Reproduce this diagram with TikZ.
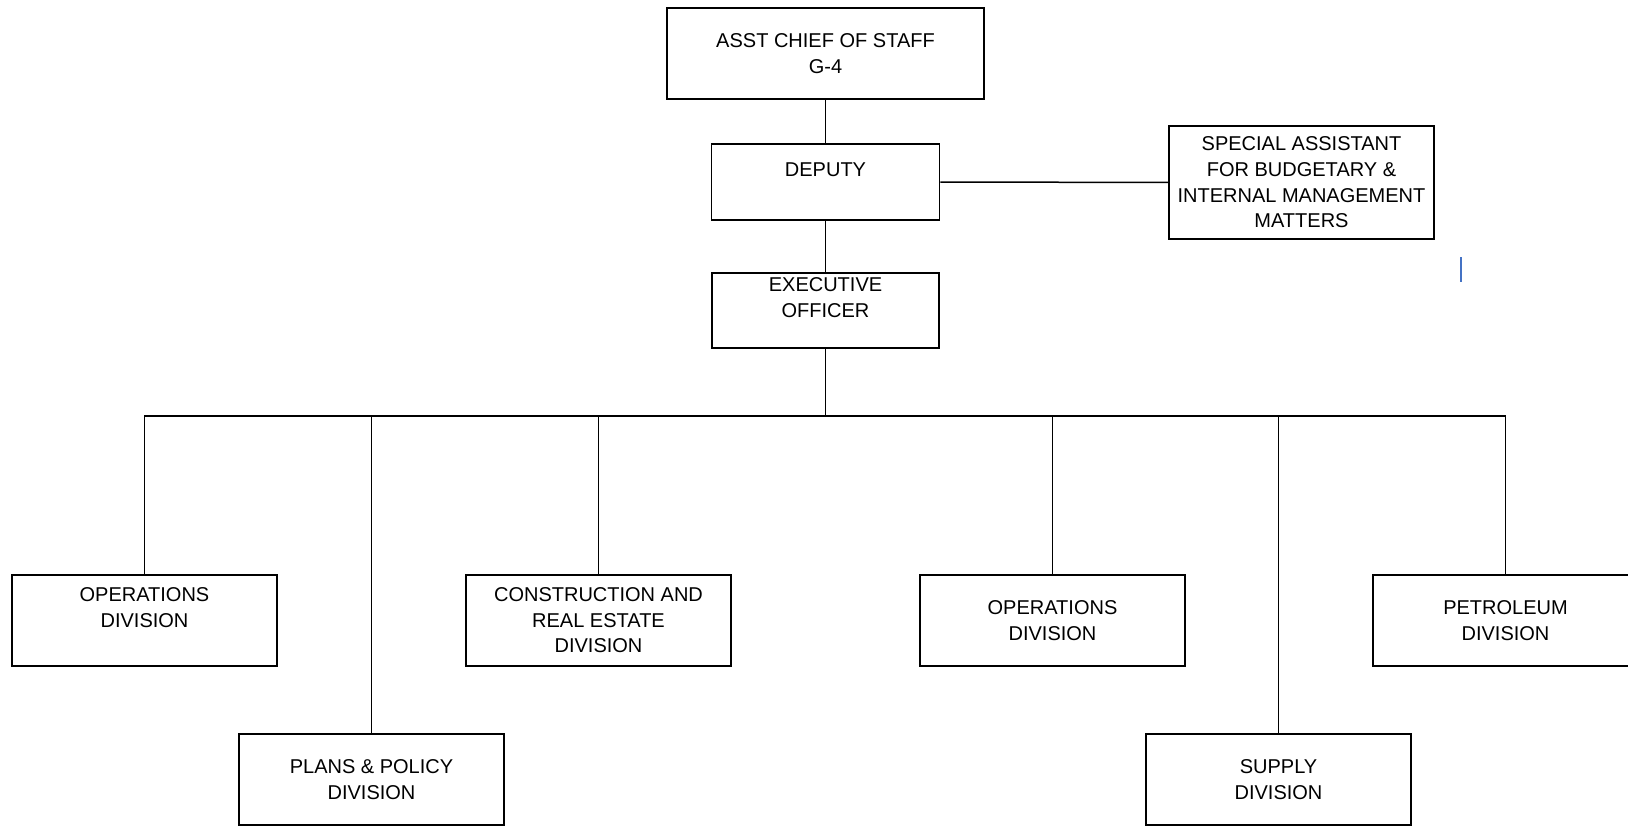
\documentclass[tikz,border=0pt]{standalone}
\usepackage{fontspec}
\setmainfont{Liberation Sans}
\usepackage{tikz}

\begin{document}
\begin{tikzpicture}
	[x=1pt, y=-1pt, line width=1.5pt,
	 unit node/.style={rectangle, draw, align=center, inner sep=0pt,
	   minimum width=265pt, minimum height=91pt,
	   font=\fontsize{20}{25.6}\selectfont}]
	\useasboundingbox (0,0) rectangle (1628,825);
	\clip (0,0) rectangle (1628,825);
	\node[unit node, minimum width=317pt] (acs) at (825.5, 53.5) {ASST CHIEF OF STAFF\\G-4};
	\node[unit node, minimum width=228pt, minimum height=76pt] (deputy) at (825.5, 182) {DEPUTY\\\mbox{}};
	\node[unit node, minimum height=113pt] (special) at (1301.5, 182.5) {SPECIAL ASSISTANT\\FOR BUDGETARY \&\\INTERNAL MANAGEMENT\\MATTERS};
	\node[unit node, minimum width=227pt, minimum height=75pt] (exec) at (825.5, 310.5) {EXECUTIVE\\OFFICER\\\mbox{}};
	\node[unit node]  (opsl) at (144.5, 620.5) {OPERATIONS\\DIVISION\\\mbox{}};
	\node[unit node]  (constr) at (598.5, 620.5) {CONSTRUCTION AND\\REAL ESTATE\\DIVISION};
	\node[unit node]  (opsr) at (1052.5, 620.5) {OPERATIONS\\DIVISION};
	\node[unit node]  (petrol) at (1505.5, 620.5) {PETROLEUM\\DIVISION};
	\node[unit node]  (plans) at (371.5, 779.5) {PLANS \& POLICY\\DIVISION};
	\node[unit node]  (supply) at (1278.5, 779.5) {SUPPLY\\DIVISION};
	\coordinate (bus) at (825.5, 416);
	\path (acs) edge (deputy);
	\path (deputy) edge (special);
	\path (deputy) edge (exec);
	\draw (exec) -- (bus);
	\draw (bus) -| (opsl);
	\draw (bus) -| (plans);
	\draw (bus) -| (constr);
	\draw (bus) -| (opsr);
	\draw (bus) -| (supply);
	\draw (bus) -| (petrol);
	% stray cursor mark
	\coordinate (mark) at (1461, 257);
	\draw[line width=1.8pt, color={rgb,255:red,68;green,114;blue,196}] (mark) -- ++(0, 25);
	\end{tikzpicture}
\end{document}
